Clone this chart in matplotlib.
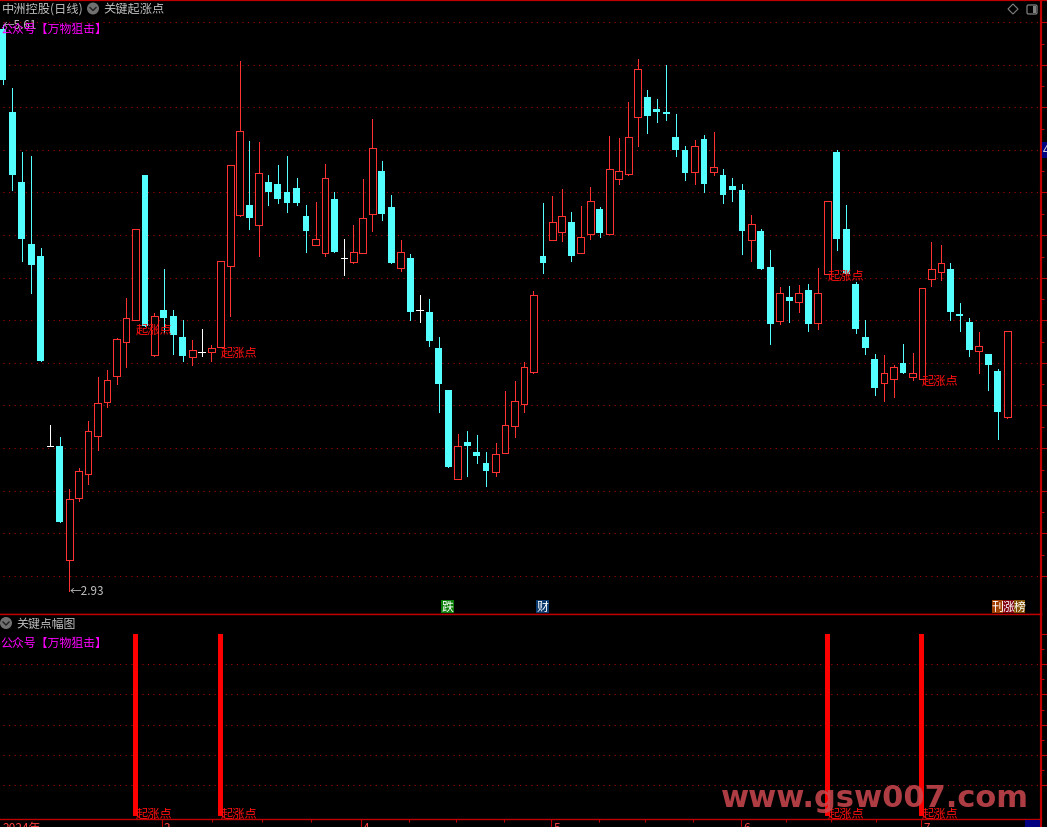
import numpy as np
import matplotlib
matplotlib.use('Agg')
import matplotlib.pyplot as plt
from matplotlib.patches import Circle, Rectangle, Polygon, FancyBboxPatch

plt.rcParams['font.family'] = ['Noto Sans CJK SC', 'DejaVu Sans']

# daily candles (u = up, d = down, w = doji)
kinds = ("dddddwduuu" "uuuuududdd" "uwuuuududd" "ddduudwuuu" "ddudwdddud"
         "dduuuuuduu" "duuduuuudd" "dddududddu" "ddududuudd" "ddduuduuuu"
         "ddduddu")
highs = [5.76, 5.445, 5.125, 5.105, 4.645, 3.76, 3.70, 3.44, 3.545, 3.78,
         4.00, 4.035, 4.195, 4.395, 4.74, 5.01, 4.32, 4.54, 4.335, 4.285,
         4.185, 4.24, 4.16, 4.58, 5.06, 5.58, 5.18, 5.175, 5.01, 5.06,
         5.105, 4.995, 4.86, 4.875, 5.065, 4.925, 4.69, 4.76, 4.99, 5.29,
         5.08, 4.91, 4.685, 4.615, 4.41, 4.39, 4.20, 3.935, 3.715, 3.73,
         3.71, 3.625, 3.67, 3.93, 3.98, 4.075, 4.43, 4.87, 4.905, 4.94,
         4.825, 4.855, 4.95, 4.85, 5.205, 5.195, 5.375, 5.59, 5.435, 5.39,
         5.56, 5.315, 5.155, 5.185, 5.21, 5.225, 5.04, 4.995, 4.965, 4.81,
         4.74, 4.635, 4.45, 4.455, 4.46, 4.465, 4.545, 4.88, 5.135, 4.86,
         4.475, 4.285, 4.115, 4.11, 4.06, 4.165, 4.12, 4.445, 4.675, 4.66,
         4.57, 4.37, 4.295, 4.225, 4.115, 4.04, 4.23]
body_tops = [5.74, 5.325, 4.975, 4.665, 4.605, 3.655, 3.655, 3.39, 3.53, 3.73,
             3.87, 3.985, 4.19, 4.295, 4.74, 5.01, 4.305, 4.335, 4.305, 4.20,
             4.135, 4.125, 4.145, 4.58, 5.06, 5.23, 4.86, 5.02, 4.975, 4.965,
             4.925, 4.945, 4.805, 4.69, 4.995, 4.89, 4.595, 4.625, 4.795, 5.145,
             5.03, 4.85, 4.625, 4.595, 4.335, 4.325, 4.145, 3.935, 3.655, 3.675,
             3.625, 3.57, 3.615, 3.76, 3.88, 4.05, 4.41, 4.605, 4.775, 4.805,
             4.775, 4.70, 4.88, 4.84, 5.04, 5.03, 5.20, 5.54, 5.40, 5.34,
             5.325, 5.20, 5.135, 5.155, 5.19, 5.05, 5.01, 4.955, 4.935, 4.765,
             4.73, 4.55, 4.42, 4.40, 4.42, 4.435, 4.42, 4.88, 5.125, 4.74,
             4.465, 4.20, 4.09, 4.02, 4.05, 4.07, 4.02, 4.445, 4.54, 4.57,
             4.54, 4.315, 4.275, 4.155, 4.115, 4.03, 4.23]
body_bots = [5.485, 5.01, 4.69, 4.56, 4.08, 3.655, 3.275, 3.085, 3.395, 3.515,
             3.705, 3.875, 4.005, 4.175, 4.285, 4.255, 4.11, 4.295, 4.21, 4.105,
             4.10, 4.125, 4.125, 4.15, 4.555, 4.81, 4.795, 4.76, 4.925, 4.89,
             4.87, 4.87, 4.73, 4.66, 4.62, 4.625, 4.595, 4.575, 4.62, 4.815,
             4.815, 4.57, 4.545, 4.325, 4.335, 4.18, 3.965, 3.55, 3.49, 3.655,
             3.605, 3.53, 3.525, 3.62, 3.755, 3.865, 4.025, 4.57, 4.685, 4.725,
             4.605, 4.62, 4.715, 4.72, 4.715, 4.99, 5.015, 5.30, 5.305, 5.325,
             5.315, 5.135, 5.02, 5.025, 4.965, 5.025, 4.91, 4.935, 4.73, 4.685,
             4.54, 4.265, 4.28, 4.38, 4.375, 4.265, 4.27, 4.515, 4.69, 4.515,
             4.24, 4.145, 3.945, 3.97, 3.99, 4.02, 4.00, 3.99, 4.49, 4.525,
             4.325, 4.305, 4.135, 4.13, 4.06, 3.825, 3.80]
lows = [5.465, 4.935, 4.58, 4.42, 4.08, 3.655, 3.275, 2.93, 3.38, 3.465,
        3.635, 3.85, 3.965, 4.05, 4.285, 4.255, 4.105, 4.225, 4.115, 4.08,
        4.06, 4.105, 4.08, 4.15, 4.305, 4.805, 4.74, 4.605, 4.86, 4.87,
        4.825, 4.86, 4.625, 4.66, 4.605, 4.625, 4.51, 4.57, 4.62, 4.73,
        4.785, 4.57, 4.53, 4.285, 4.275, 4.155, 3.825, 3.55, 3.49, 3.505,
        3.57, 3.455, 3.505, 3.62, 3.70, 3.825, 4.02, 4.52, 4.685, 4.68,
        4.58, 4.62, 4.69, 4.70, 4.715, 4.965, 5.01, 5.155, 5.22, 5.275,
        5.285, 5.105, 4.985, 4.965, 4.925, 5.01, 4.87, 4.88, 4.615, 4.58,
        4.54, 4.165, 4.265, 4.275, 4.325, 4.23, 4.24, 4.515, 4.635, 4.515,
        4.22, 4.115, 3.91, 3.88, 3.90, 4.02, 3.985, 3.99, 4.455, 4.485,
        4.285, 4.23, 4.105, 4.02, 3.935, 3.69, 3.795]

grid_levels = [5.773, 5.558, 5.35, 5.135, 4.925, 4.71, 4.495, 4.285, 4.07, 3.86,
               3.645, 3.43, 3.22, 3.005]

# signal days and the lower pane
signal_days = [14, 23, 87, 97]
signal_label_levels = [4.24, 4.125, 4.51, 3.985]
signal_values = [1.0, 1.0, 1.0, 1.0]
lower_grid = [0.835, 0.67, 0.5, 0.335, 0.17]
signal_name = '起涨点'

month_ticks = [16.8, 37.8, 57.9, 77.9, 96.9]
month_labels = ['2', '4', '5', '6', '7']
minor_ticks = [22.1, 27.4, 32.5, 42.9, 47.8, 52.9, 62.9, 67.8, 72.8, 82.7, 87.4, 92.1]

CYAN = '#54ffff'
RED = '#ff3232'
LINE = '#c00000'
GREY = '#c0c0c0'
W, H = 1047, 828

fig = plt.figure(figsize=(W / 100, H / 100), dpi=100, facecolor='black')
ax = fig.add_axes([0, (H - 615) / H, 1041 / W, 615 / H], facecolor='black')
ax2 = fig.add_axes([0, (H - 820) / H, 1041 / W, 205 / H], facecolor='black', sharex=ax)
over = fig.add_axes([0, 0, 1, 1], zorder=10)
over.set_xlim(0, W)
over.set_ylim(H, 0)
over.axis('off')

days = np.arange(len(kinds))
body_w = 0.72

# candles
for i, k in zip(days, kinds):
    c = {'u': RED, 'd': CYAN, 'w': 'white'}[k]
    ax.vlines(i, lows[i], highs[i], color=c, lw=0.6, zorder=3, snap=True, antialiased=False)
    if k == 'u':
        ax.bar(i, body_tops[i] - body_bots[i], bottom=body_bots[i], width=body_w,
               facecolor='black', edgecolor=RED, lw=0.6, zorder=4, antialiased=False)
    elif k == 'd':
        ax.bar(i, body_tops[i] - body_bots[i], bottom=body_bots[i], width=body_w,
               facecolor=CYAN, edgecolor='none', zorder=4)
    else:
        ax.hlines(body_tops[i], i - 0.35, i + 0.35, color='white', lw=0.6, zorder=4,
                  snap=True, antialiased=False)

ax.hlines(grid_levels, 0, 109.6, color='#a80000', lw=0.8, linestyles=(0, (1, 4)), zorder=1)
ax.set_xlim(-0.295, 109.56)
ax.set_ylim(5.89 - 615 / 200, 5.89)

for d, lev in zip(signal_days, signal_label_levels):
    ax.text(d, lev, signal_name, color='#ff1010', fontsize=8.8, ha='left', va='center', zorder=6)

ax.text(0, highs[0], '←5.61', color=GREY, fontsize=8.4, ha='left', va='center', zorder=5)
ax.text(7, lows[7], '←2.93', color=GREY, fontsize=8.4, ha='left', va='center', zorder=5)

# lower pane
ax2.bar(signal_days, signal_values, width=0.53, color='#ff0000', zorder=3)
ax2.hlines(lower_grid, 0, 109.6, color='#a80000', lw=0.8, linestyles=(0, (1, 4)), zorder=1)
ax2.set_ylim(-3 / 182, 202 / 182)
for d in signal_days:
    ax2.text(d, 0.016, signal_name, color='#ff1010', fontsize=8.8, ha='left', va='center', zorder=6)

for a, ticks in ((ax, grid_levels), (ax2, [1.0] + lower_grid)):
    for s in ('left', 'top'):
        a.spines[s].set_visible(False)
    a.spines['right'].set_color(LINE)
    a.spines['right'].set_linewidth(1.6)
    a.spines['bottom'].set_color(LINE)
    a.spines['bottom'].set_linewidth(1.0)
    a.yaxis.tick_right()
    mids = (np.array(ticks[:-1]) + np.array(ticks[1:])) / 2
    a.set_yticks(ticks)
    a.set_yticks(mids, minor=True)
    a.tick_params(axis='y', which='major', length=4.3, width=0.8, color=LINE, labelright=False)
    a.tick_params(axis='y', which='minor', length=2.2, width=0.8, color=LINE)

# pane divider sits on top of the lower pane
ax2.spines['top'].set_visible(True)
ax2.spines['top'].set_color(LINE)
ax2.spines['top'].set_linewidth(1.0)

ax.tick_params(axis='x', which='both', length=0, labelbottom=False)
ax2.set_xticks(month_ticks)
ax2.set_xticks(minor_ticks, minor=True)
ax2.set_xticklabels([])
ax2.tick_params(axis='x', which='major', length=6, width=0.8, color=LINE)
ax2.tick_params(axis='x', which='minor', length=2, width=0.8, color=LINE)

# date labels, cut by the bottom edge as in the screenshot
for t, lab in zip(month_ticks, month_labels):
    x = 2.8 + t * 9.476 + 2
    over.text(x, 822.5, lab, color='#ff4040', fontsize=8.6, ha='left', va='top', clip_on=False)
over.text(3, 822.5, '2024年', color='#ff4040', fontsize=8.6, ha='left', va='top')

# window chrome
over.plot([0, W], [0.8, 0.8], color=LINE, lw=1.6)
over.text(2, 9.5, '中洲控股(日线)', color=GREY, fontsize=8.8, ha='left', va='center')
over.text(103, 9.5, '关键起涨点', color=GREY, fontsize=8.8, ha='left', va='center')
over.text(0, 29, '公众号【万物狙击】', color='#ff00ff', fontsize=8.6, ha='left', va='center')
over.text(16, 624, '关键点幅图', color=GREY, fontsize=8.6, ha='left', va='center')
over.text(0, 643, '公众号【万物狙击】', color='#ff00ff', fontsize=8.6, ha='left', va='center')

for cx, cy in ((93, 9.5), (6, 624)):
    over.add_patch(Circle((cx, cy), 6, facecolor='#707070', edgecolor='none'))
    over.plot([cx - 3, cx, cx + 3], [cy - 1, cy + 2, cy - 1], color='#202020', lw=1)

over.add_patch(Polygon([(1013, 5), (1018, 10), (1013, 15), (1008, 10)], closed=True,
                       facecolor='none', edgecolor='#808080', lw=0.8))
over.add_patch(FancyBboxPatch((1027, 6), 10, 9, boxstyle='round,pad=0,rounding_size=1.5',
                              facecolor='black', edgecolor='#808080', lw=0.9))
over.add_patch(Rectangle((1033, 7), 3, 7, facecolor='#808080', edgecolor='none'))

# news badges
badges = [('跌', 441, '#0a800a'), ('财', 536, '#0a3a6e'),
          ('刊', 992, '#a04000'), ('涨', 1003, '#800010'), ('榜', 1014, '#805000')]
for ch, x0, bg in badges:
    w = 13 if ch in '跌财' else 11
    over.add_patch(Rectangle((x0, 601), w, 13, facecolor=bg, edgecolor='none'))
    over.text(x0 + w / 2, 607.5, ch, color='white', fontsize=8.6, ha='center', va='center')

# navy tags at the right edge
over.add_patch(Rectangle((1042, 143), 5, 16, facecolor='#000080', edgecolor='none'))
over.text(1043, 151, '4', color='#e0e0e0', fontsize=8.6, ha='left', va='center', clip_on=True)
over.add_patch(Rectangle((1025, 821), 15, 7, facecolor='#000080', edgecolor='none'))
over.plot([1041, 1041], [820, 828], color=LINE, lw=1.5)

# site watermark
over.text(721, 799, 'www.gsw007.com', color='#cc4850', alpha=0.85, fontsize=22,
          family='DejaVu Sans', fontweight='bold', ha='left', va='center')

fig.savefig('out.png', dpi=100, facecolor='black')
plt.close(fig)
